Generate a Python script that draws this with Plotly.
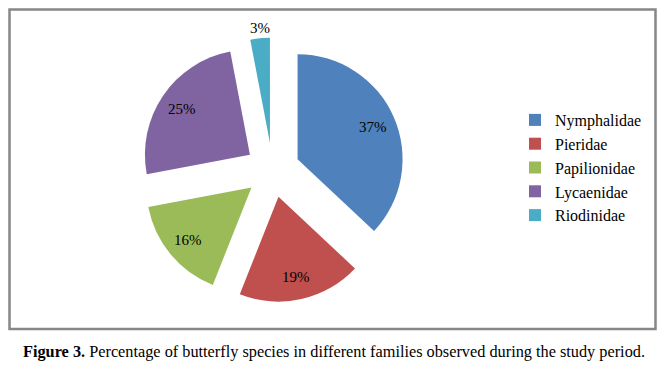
import math
import plotly.graph_objects as go

families = ["Nymphalidae", "Pieridae", "Papilionidae", "Lycaenidae", "Riodinidae"]
percentages = [37, 19, 16, 25, 3]
colors = ["#4F81BD", "#C0504D", "#9BBB59", "#8064A2", "#4BACC6"]
label_outside = [False, False, False, False, True]
caption_bold = "Figure 3."
caption_rest = "Percentage of butterfly species in different families observed during the study period."

W, H = 671, 369
FONT = "Liberation Serif, Times New Roman, serif"

# pie placement (pixels)
cx, cy, r, pull = 272.5, 170.0, 105.0, 0.26
half = r * (1 + pull)

fig = go.Figure(
    go.Pie(
        labels=families,
        values=percentages,
        sort=False,
        direction="clockwise",
        rotation=0,
        pull=[pull] * len(families),
        marker=dict(colors=colors, line=dict(width=0)),
        textinfo="none",
        hoverinfo="label+percent",
        automargin=False,
        domain=dict(
            x=[(cx - half) / W, (cx + half) / W],
            y=[1 - (cy + half) / H, 1 - (cy - half) / H],
        ),
    )
)

# percentage labels placed along each slice's mid-angle (Excel style)
annotations = []
total = sum(percentages)
cum = 0.0
for val, outside in zip(percentages, label_outside):
    mid = (cum + val / 2) / total
    cum += val
    theta = 2 * math.pi * mid
    sx, sy = math.sin(theta), math.cos(theta)
    if outside:
        d = (pull + 1.0) * r
    else:
        d = (pull + 0.78) * r
    px = cx + d * sx
    py = cy - d * sy
    annotations.append(
        dict(
            xref="paper",
            yref="paper",
            x=px / W,
            y=1 - py / H,
            xanchor="center",
            yanchor=("bottom" if sy > 0 else "top") if outside else "middle",
            showarrow=False,
            text=f"{val}%",
            font=dict(family=FONT, size=15, color="black"),
        )
    )

annotations.append(
    dict(
        xref="paper",
        yref="paper",
        x=21 / W,
        y=1 - 351 / H,
        xanchor="left",
        yanchor="middle",
        showarrow=False,
        text=f"<b>{caption_bold}</b> {caption_rest}",
        font=dict(family=FONT, size=16.3, color="black"),
    )
)

fig.update_layout(
    width=W,
    height=H,
    margin=dict(l=0, r=0, t=0, b=0, pad=0, autoexpand=False),
    paper_bgcolor="white",
    plot_bgcolor="white",
    font=dict(family=FONT, size=15, color="black"),
    legend=dict(
        x=515 / W,
        xanchor="left",
        y=1 - 103 / H,
        yanchor="top",
        font=dict(family=FONT, size=16, color="black"),
        bgcolor="rgba(0,0,0,0)",
        borderwidth=0,
        tracegroupgap=0,
    ),
    shapes=[
        dict(
            type="rect",
            xref="paper",
            yref="paper",
            x0=9.5 / W,
            x1=655.5 / W,
            y0=1 - 329 / H,
            y1=1 - 9.5 / H,
            line=dict(color="#878787", width=2.5),
            fillcolor="rgba(0,0,0,0)",
        )
    ],
    annotations=annotations,
)

fig.write_html(
    "out.html",
    config=dict(displayModeBar=False),
    post_script="document.body.style.margin='0';document.body.style.overflow='hidden';",
)
